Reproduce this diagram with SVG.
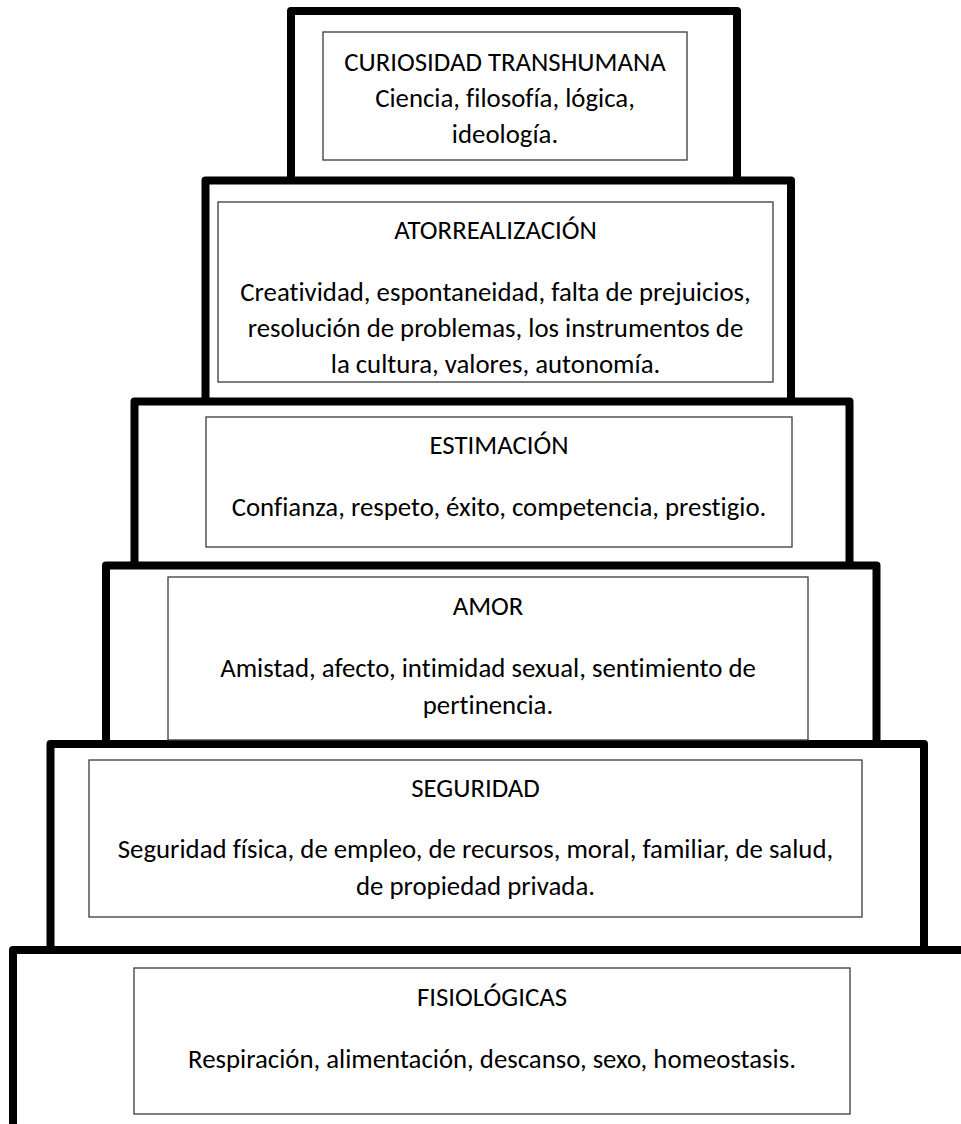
<svg xmlns="http://www.w3.org/2000/svg" width="961" height="1124" viewBox="0 0 961 1124">
<style>
.lvl{fill:none;stroke:#000;stroke-width:8;stroke-linejoin:round;stroke-linecap:butt}
.box{fill:#fff;stroke:#3a3a3a;stroke-width:1.3}
text{font-family:Carlito,Lato,"Liberation Sans",sans-serif;font-size:26.8px;fill:#000;text-anchor:middle;font-variant-ligatures:none}
</style>
<rect width="961" height="1124" fill="#fff"/>
<g id="levels">
<path class="lvl" d="M291,180.5 V11 H737 V180.5"/>
<path class="lvl" d="M205.5,401.5 V180.5 H791 V401.5"/>
<path class="lvl" d="M134.5,565.5 V401.5 H849.5 V565.5"/>
<path class="lvl" d="M106,744 V565.5 H876.5 V744"/>
<path class="lvl" d="M50.5,950 V744 H924 V950"/>
<path class="lvl" d="M13,1130 V950 H970"/>
</g>
<g id="curiosidad">
<rect class="box" x="323" y="32" width="364" height="128"/>
<text x="505" y="71">CURIOSIDAD TRANSHUMANA</text>
<text x="505" y="107">Ciencia, filosofía, lógica,</text>
<text x="505" y="143">ideología.</text>
</g>
<g id="autorrealizacion">
<rect class="box" x="218" y="202" width="555" height="180"/>
<text x="495.5" y="239">ATORREALIZACIÓN</text>
<text x="495.5" y="301">Creatividad, espontaneidad, falta de prejuicios,</text>
<text x="495.5" y="337">resolución de problemas, los instrumentos de</text>
<text x="495.5" y="373">la cultura, valores, autonomía.</text>
</g>
<g id="estimacion">
<rect class="box" x="206" y="417" width="586" height="130"/>
<text x="499" y="454">ESTIMACIÓN</text>
<text x="499" y="516">Confianza, respeto, éxito, competencia, prestigio.</text>
</g>
<g id="amor">
<rect class="box" x="168" y="577" width="640" height="163"/>
<text x="488" y="615">AMOR</text>
<text x="488" y="677">Amistad, afecto, intimidad sexual, sentimiento de</text>
<text x="488" y="714">pertinencia.</text>
</g>
<g id="seguridad">
<rect class="box" x="89" y="760" width="773" height="157"/>
<text x="475.5" y="797">SEGURIDAD</text>
<text x="475.5" y="858">Seguridad física, de empleo, de recursos, moral, familiar, de salud,</text>
<text x="475.5" y="895">de propiedad privada.</text>
</g>
<g id="fisiologicas">
<rect class="box" x="134" y="968" width="716" height="146"/>
<text x="492" y="1006">FISIOLÓGICAS</text>
<text x="492" y="1068">Respiración, alimentación, descanso, sexo, homeostasis.</text>
</g>
</svg>
